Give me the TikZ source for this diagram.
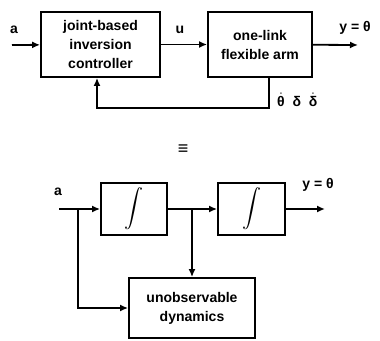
\documentclass[tikz,border=0pt]{standalone}
\usepackage{fontspec}
\setmainfont{Liberation Sans}
\usetikzlibrary{arrows.meta}
\newcommand{\tdot}[1]{$\dot{\mbox{\bfseries #1}}$}

\begin{document}
\begin{tikzpicture}[x=1pt,y=-1pt,block/.style={draw,line width=1.8pt,inner sep=0pt,align=center,font=\bfseries\fontsize{14}{19}\selectfont},flow/.style={-{Latex[length=8pt,width=7pt]},line width=1.8pt},lbl/.style={font=\bfseries\fontsize{14}{16}\selectfont,inner sep=0pt}]
\useasboundingbox (0,0) rectangle (380,340);
% upper loop
\node[block,minimum width=119pt,minimum height=65pt] (ctrl) at (100.5,44.5) {joint-based\\inversion\\controller};
\node[block,minimum width=104pt,minimum height=65pt] (arm) at (260,44.5) {one-link\\flexible arm};
\coordinate (in1) at (12,45);
\coordinate (out1) at (358,45);
\coordinate (fbR) at (269,108);
\coordinate (fbL) at (97,108);
\draw[flow] (in1) -- (ctrl);
\draw[flow] (ctrl) -- (arm);
\draw[flow] (arm) -- (out1);
\draw[flow] (arm.south -| fbR) -- (fbR) -- (fbL) -- (ctrl.south -| fbL);
\node[lbl] (la) at (14,30) {a};
\node[lbl] (lu) at (180,30) {u};
\node[lbl] (ly) at (355,28) {y = θ};
\node[lbl,anchor=west] (ls) at (277,100) {\tdot{θ}\ \ δ\ \ \tdot{δ}};
% equivalence
\node[lbl,font=\bfseries\fontsize{18}{18}\selectfont] (eq) at (183,150) {≡};
% lower chain
\node[block,minimum width=66pt,minimum height=52pt] (int1) at (134,209) {\scalebox{1.9}{$\displaystyle\int$}};
\node[block,minimum width=67pt,minimum height=52pt] (int2) at (251.5,209) {\scalebox{1.9}{$\displaystyle\int$}};
\node[block,minimum width=126pt,minimum height=60pt] (unobs) at (192,308) {unobservable\\dynamics};
\coordinate (in2) at (59,209);
\coordinate (out2) at (325,209);
\coordinate (brA) at (78,209);
\coordinate (brB) at (192,209);
\draw[flow] (in2) -- (int1);
\draw[flow] (int1) -- (int2);
\draw[flow] (int2) -- (out2);
\draw[flow] (brB) -- (unobs);
\draw[flow] (brA) |- (unobs);
\node[lbl] (la2) at (58,192) {a};
\node[lbl] (ly2) at (318,185) {y = θ};
\end{tikzpicture}
\end{document}
